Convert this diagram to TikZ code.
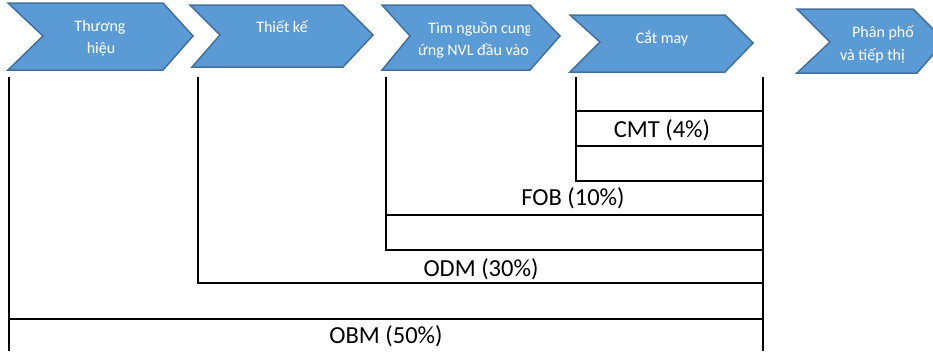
\documentclass[tikz,border=0pt]{standalone}
\usepackage{fontspec}
\setmainfont{Carlito}
\definecolor{chevfill}{HTML}{5B9BD5}
\definecolor{chevline}{HTML}{41719C}
\begin{document}
\begin{tikzpicture}[x=1pt, y=-1pt,
		chev/.style={draw=chevline, fill=chevfill, line width=1.5pt},
		stage/.style={text=white, font=\fontsize{16}{20}\selectfont, inner sep=0pt, anchor=base},
		level/.style={line width=2.5pt},
		share/.style={font=\fontsize{24.5}{29}\selectfont, inner sep=0pt, anchor=base}]
		\clip (0,0) rectangle (933,351);

		% Value chain stages
		\draw[chev] (8,3) -- (163,3) -- (193,36) -- (163,70) -- (8,70) -- (43,36) -- cycle;
		\node[stage] (brand1) at (100,31) {Thương};
		\node[stage] (brand2) at (101,53) {hiệu};

		\draw[chev] (190,5) -- (343,5) -- (373,35) -- (343,67) -- (192,67) -- (220,35) -- cycle;
		\node[stage] (design) at (282,32) {Thiết kế};

		\draw[chev] (382,5) -- (530,5) -- (560,36) -- (530,70) -- (382,70) -- (410,36) -- cycle;
		\begin{scope}
			\clip (382,5) rectangle (529,70);
			\node[stage, anchor=base west] (source1) at (428,33) {Tìm nguồn cung};
			\node[stage, anchor=base west] (source2) at (418,55) {ứng NVL đầu vào};
		\end{scope}

		\draw[chev] (570,15) -- (725,15) -- (753,43) -- (725,72) -- (570,72) -- (600,42) -- cycle;
		\node[stage] (sew) at (662,43) {Cắt may};

		\draw[chev] (797,9) -- (913,9) -- (945,41) -- (917,73) -- (797,73) -- (830,42) -- cycle;
		\begin{scope}
			\clip (797,9) rectangle (913,73);
			\node[stage, anchor=base west] (dist1) at (852,37) {Phân phối};
			\node[stage, anchor=base west] (dist2) at (840,60) {và tiếp thị};
		\end{scope}

		% Right edge shared by all levels
		\draw[level] (763,77) -- (763,351);

		% CMT
		\draw[level] (576,77) -- (576,181) -- (763,181);
		\draw[level] (576,111) -- (763,111);
		\draw[level] (576,146) -- (763,146);
		\node[share] (cmt) at (662,137) {CMT (4\%)};

		% FOB
		\draw[level] (386,77) -- (386,250) -- (763,250);
		\draw[level] (386,215) -- (763,215);
		\node[share] (fob) at (573,205) {FOB (10\%)};

		% ODM
		\draw[level] (198,77) -- (198,283) -- (763,283);
		\node[share] (odm) at (481,276) {ODM (30\%)};

		% OBM
		\draw[level] (9,77) -- (9,351);
		\draw[level] (9,319) -- (763,319);
		\node[share] (obm) at (386,343) {OBM (50\%)};
	\end{tikzpicture}
\end{document}
